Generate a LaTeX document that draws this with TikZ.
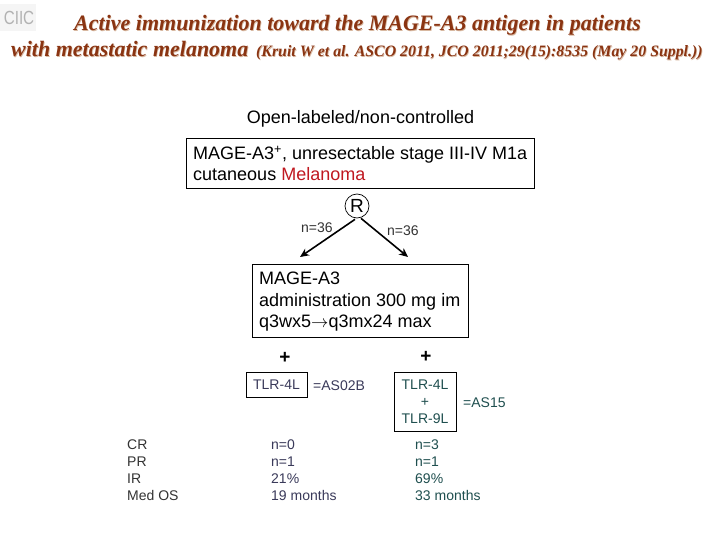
\documentclass[tikz,border=0pt]{standalone}
\usepackage{fontspec}
\setmainfont{Liberation Sans}
\newfontfamily\serifbi[BoldItalicFont={Liberation Serif Bold Italic}]{Liberation Serif}
\usetikzlibrary{arrows.meta}
\definecolor{titlec}{HTML}{8A3412}
\definecolor{shadowc}{HTML}{D8B8A0}
\definecolor{slatec}{HTML}{3A3A5A}
\definecolor{tealc}{HTML}{1F4F4F}
\definecolor{grayc}{HTML}{333333}
\definecolor{redc}{HTML}{C01820}
\tikzset{
  x=1pt,y=-1pt,
  big/.style={font=\fontsize{18}{21.5}\selectfont,text=black,inner sep=0pt},
  small/.style={font=\fontsize{14}{17}\selectfont,inner sep=0pt},
  titlea/.style={font=\serifbi\fontsize{22}{24}\selectfont\bfseries\itshape,inner sep=0pt,anchor=base west},
  titleb/.style={font=\serifbi\fontsize{15.85}{17}\selectfont\bfseries\itshape,inner sep=0pt,anchor=base west},
  arm/.style={-{Stealth[length=9pt,width=8pt]},line width=1.6pt,black}
}
\begin{document}
\begin{tikzpicture}
\useasboundingbox[fill=white] (0,0) rectangle (720,540);
% logo
\fill[black!4] (0,4) rectangle (36,31);
\node[inner sep=0pt,text=black!30,font=\fontsize{19}{19}\selectfont,xscale=0.8] (logo) at (19,18) {CIIC};
% title shadow
\node[titlea,text=shadowc] (t1s) at (74.7,31.7) {Active immunization toward the MAGE-A3 antigen in patients};
\node[titlea,text=shadowc] (t2s) at (11.7,57.7) {with metastatic melanoma};
\node[titleb,text=shadowc] (t3s) at (256.7,57.7) {(Kruit W et al. ASCO 2011, JCO 2011;29(15):8535 (May 20 Suppl.))};
% title
\node[titlea,text=titlec] (t1) at (74,31) {Active immunization toward the MAGE-A3 antigen in patients};
\node[titlea,text=titlec] (t2) at (11,57) {with metastatic melanoma};
\node[titleb,text=titlec] (t3) at (256,57) {(Kruit W et al. ASCO 2011, JCO 2011;29(15):8535 (May 20 Suppl.))};
% header
\node[big] (design) at (360.5,119) {Open-labeled/non-controlled};
% population box
\draw[line width=0.8pt] (186,138) rectangle (534,188);
\node[big,anchor=base west] (pop1) at (193,159.5) {MAGE-A3\textsuperscript{+}, unresectable stage III-IV M1a};
\node[big,anchor=base west] (pop2) at (193,181) {cutaneous \textcolor{redc}{Melanoma}};
% randomisation
\node[draw=black,circle,line width=0.7pt,minimum size=24pt,inner sep=0pt,font=\fontsize{19}{19}\selectfont] (R) at (357,206) {R};
% treatment box
\node[draw=black,line width=0.8pt,minimum width=216pt,minimum height=73pt,inner sep=0pt] (treat) at (360,300.5) {};
\coordinate (tl) at (300,257);
\coordinate (tr) at (408,257);
\draw[arm] (R.south) ++(-2,1) -- (tl);
\draw[arm] (R.south) ++(4,0) -- (tr);
\node[small,text=grayc,anchor=base west] (nl) at (301,233) {n=36};
\node[small,text=grayc,anchor=base west] (nr) at (387,236) {n=36};
\node[big,anchor=base west] (tr1) at (259,284.5) {MAGE-A3};
\node[big,anchor=base west] (tr2) at (259,306.5) {administration 300 mg im};
\node[big,anchor=base west] (tr3) at (259,327.5) {q3wx5$\rightarrow$q3mx24 max};
% plus signs
\node[inner sep=0pt,font=\fontsize{19}{19}\bfseries\selectfont] (pl) at (285,358) {+};
\node[inner sep=0pt,font=\fontsize{19}{19}\bfseries\selectfont] (pr) at (426,357) {+};
% adjuvants
\node[draw=black,line width=0.8pt,minimum width=61pt,minimum height=25pt,inner sep=0pt,small,text=slatec] (tlr4) at (276.5,384.5) {TLR-4L};
\node[small,text=slatec,anchor=base west] (as02) at (313,390) {=AS02B};
\node[draw=black,line width=0.8pt,minimum width=62pt,minimum height=59pt,inner sep=0pt,small,text=tealc,align=center] (tlr49) at (425,401.5) {TLR-4L\\+\\TLR-9L};
\node[small,text=tealc,anchor=base west] (as15) at (463,407) {=AS15};
% results
\node[small,text=grayc,anchor=base west] (a1) at (127,449) {CR};
\node[small,text=grayc,anchor=base west] (a2) at (127,466) {PR};
\node[small,text=grayc,anchor=base west] (a3) at (127,483) {IR};
\node[small,text=grayc,anchor=base west] (a4) at (127,500) {Med OS};
\node[small,text=slatec,anchor=base west] (b1) at (271,449) {n=0};
\node[small,text=slatec,anchor=base west] (b2) at (271,466) {n=1};
\node[small,text=slatec,anchor=base west] (b3) at (271,483) {21\%};
\node[small,text=slatec,anchor=base west] (b4) at (271,500) {19 months};
\node[small,text=tealc,anchor=base west] (c1) at (415,449) {n=3};
\node[small,text=tealc,anchor=base west] (c2) at (415,466) {n=1};
\node[small,text=tealc,anchor=base west] (c3) at (415,483) {69\%};
\node[small,text=tealc,anchor=base west] (c4) at (415,500) {33 months};
\end{tikzpicture}
\end{document}
